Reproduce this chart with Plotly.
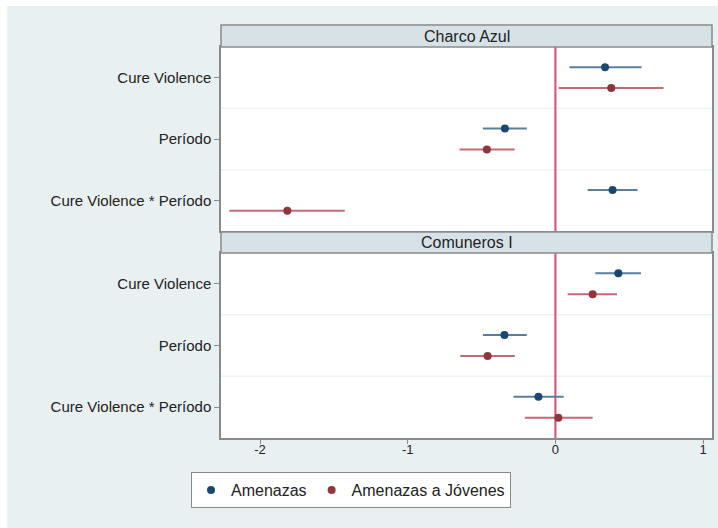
import plotly.graph_objects as go

# ---- data ----
categories = ["Cure Violence", "Período", "Cure Violence * Período"]
panels = ["Charco Azul", "Comuneros I"]
series_names = ["Amenazas", "Amenazas a Jóvenes"]

# Charco Azul
ca_amen = [0.336, -0.342, 0.387]
ca_amen_lo = [0.095, -0.491, 0.218]
ca_amen_hi = [0.583, -0.194, 0.556]
ca_jov = [0.378, -0.464, -1.815]
ca_jov_lo = [0.022, -0.649, -2.207]
ca_jov_hi = [0.732, -0.277, -1.426]

# Comuneros I
co_amen = [0.426, -0.345, -0.115]
co_amen_lo = [0.270, -0.491, -0.284]
co_amen_hi = [0.579, -0.194, 0.056]
co_jov = [0.252, -0.459, 0.020]
co_jov_lo = [0.083, -0.644, -0.207]
co_jov_hi = [0.417, -0.275, 0.252]

x_ticks = [-2, -1, 0, 1]
x_ticklabels = ["-2", "-1", "0", "1"]

# ---- style ----
W, H = 718, 528
L, R, T, B = 221, 5.5, 47, 90
pw = W - L - R
ph = H - T - B
BG = "#e9f0f2"
STRIP = "#d6e2e8"
BORDER = "#8a8a8a"
marker_cols = ["#1a476f", "#90353b"]
line_cols = ["#5a7f9e", "#c46a74"]
FONT = "Liberation Sans, Arial, sans-serif"

def py(ypix):
    return (H - B - ypix) / ph

def px(xpix):
    return (xpix - L) / pw

top_dom = [py(231), 1.0]
bot_dom = [0.0, py(253)]

fig = go.Figure()

panel_data = [
    (ca_amen, ca_amen_lo, ca_amen_hi, ca_jov, ca_jov_lo, ca_jov_hi),
    (co_amen, co_amen_lo, co_amen_hi, co_jov, co_jov_lo, co_jov_hi),
]
axes = [("x2", "y2"), ("x", "y")]
offs = [-0.17, 0.17]

for p, (data, (xa, ya)) in enumerate(zip(panel_data, axes)):
    groups = [(data[0], data[1], data[2]), (data[3], data[4], data[5])]
    for s, (est, lo, hi) in enumerate(groups):
        ypos = [i + 1 + offs[s] for i in range(len(categories))]
        fig.add_trace(go.Scatter(
            x=est, y=ypos, xaxis=xa, yaxis=ya, mode="markers",
            name=series_names[s], showlegend=(p == 0), legendgroup=series_names[s],
            marker=dict(color=marker_cols[s], size=8),
            error_x=dict(type="data", symmetric=False,
                         array=[h - e for h, e in zip(hi, est)],
                         arrayminus=[e - l for e, l in zip(est, lo)],
                         color=line_cols[s], thickness=2, width=0),
        ))

xrange = [-2.264, 1.06]
common_y = dict(
    range=[3.5, 0.5], tickmode="array",
    tickvals=[i + 1 for i in range(len(categories))], ticktext=categories,
    ticks="outside", ticklen=5, tickcolor=BORDER, tickwidth=1,
    showgrid=False, zeroline=False,
    showline=True, linecolor=BORDER, linewidth=1.5, mirror=True,
    tickfont=dict(size=15, color="#222", family=FONT),
)
fig.update_layout(
    width=W, height=H,
    margin=dict(l=L, r=R, t=T, b=B),
    paper_bgcolor=BG, plot_bgcolor="white",
    font=dict(family=FONT, color="#222"),
    xaxis=dict(domain=[0, 1], anchor="y", range=xrange, tickmode="array",
               tickvals=x_ticks, ticktext=x_ticklabels,
               ticks="outside", ticklen=4, tickcolor=BORDER, showgrid=False,
               zeroline=False, showline=True, linecolor=BORDER, linewidth=1.5,
               mirror=True, ticklabelstandoff=-5,
               tickfont=dict(size=13, color="#222")),
    xaxis2=dict(domain=[0, 1], anchor="y2", matches="x", range=xrange,
                showticklabels=False, ticks="", showgrid=False, zeroline=False,
                showline=True, linecolor=BORDER, linewidth=1.5, mirror=True),
    yaxis=dict(domain=bot_dom, anchor="x", **common_y),
    yaxis2=dict(domain=top_dom, anchor="x2", **common_y),
    legend=dict(orientation="h", x=px(191), xanchor="left", y=py(472), yanchor="top",
                bgcolor="white", bordercolor=BORDER, borderwidth=1,
                font=dict(size=16, color="#222"), itemwidth=30,
                tracegroupgap=0),
    showlegend=True,
)

shapes = []
shapes.append(dict(type="rect", xref="paper", yref="paper", x0=px(0), x1=px(W),
                   y0=py(6), y1=py(0), fillcolor="white", line_width=0, layer="below"))
shapes.append(dict(type="rect", xref="paper", yref="paper", x0=px(0), x1=px(7),
                   y0=py(H), y1=py(0), fillcolor="white", line_width=0, layer="below"))
for ya in ["y", "y2"]:
    for g in [1.5, 2.5]:
        shapes.append(dict(type="line", xref="paper", yref=ya, x0=0, x1=1, y0=g, y1=g,
                           line=dict(color="#edf2f4", width=1.5), layer="below"))
for xa, ya in [("x", "y"), ("x2", "y2")]:
    shapes.append(dict(type="line", xref=xa, yref=ya + " domain", x0=0, x1=0, y0=0, y1=1,
                       line=dict(color="#dc4a6c", width=2), layer="below"))
for (y0p, y1p) in [(py(47), py(25)), (py(253), py(232))]:
    shapes.append(dict(type="rect", xref="paper", yref="paper", x0=0, x1=1, y0=y0p, y1=y1p,
                       fillcolor=STRIP, line=dict(color=BORDER, width=1.5), layer="above"))
fig.update_layout(shapes=shapes)

annotations = []
for name, (a, b) in zip(panels, [(25, 47), (232, 253)]):
    annotations.append(dict(text=name, xref="paper", yref="paper", x=0.5, y=py((a + b) / 2),
                            xanchor="center", yanchor="middle", showarrow=False,
                            font=dict(size=16, color="#222", family=FONT)))
fig.update_layout(annotations=annotations)

fig.write_html("out.html")
